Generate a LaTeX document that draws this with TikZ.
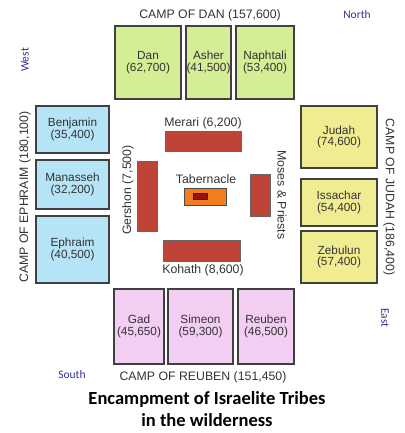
\documentclass[tikz,border=0pt]{standalone}
\usepackage{fontspec}
\setmainfont{Liberation Sans}
\newfontfamily\titlefont{Carlito}
\usetikzlibrary{positioning}

\definecolor{dangreen}{RGB}{212,238,150}
\definecolor{ephblue}{RGB}{180,228,246}
\definecolor{judyellow}{RGB}{240,236,146}
\definecolor{reupink}{RGB}{243,206,243}
\definecolor{levibrown}{RGB}{190,68,56}
\definecolor{taborange}{RGB}{240,125,30}
\definecolor{tabdark}{RGB}{150,20,10}
\definecolor{compass}{RGB}{50,50,150}

\begin{document}
\begin{tikzpicture}[x=1pt, y=-1pt]
    % Styles
    \tikzset{tribe/.style={rectangle, draw=black!75, line width=1.1pt, inner sep=0pt, align=center, font=\fontsize{11.8}{11.8}\selectfont, text=black!80}}
    \tikzset{levite/.style={rectangle, draw=black!60, line width=0.6pt, fill=levibrown}}
    \tikzset{camp/.style={font=\fontsize{12.3}{14}\selectfont, text=black!80}}
    \tikzset{dir/.style={font=\titlefont\fontsize{11.5}{13}\selectfont, text=compass}}
    \useasboundingbox (0,0) rectangle (404,433);

    % North: camp of Dan
    \node [tribe, fill=dangreen, minimum width=66pt, minimum height=73pt] (dan) at (148,62.5) {Dan\\(62,700)};
    \node [tribe, fill=dangreen, minimum width=45pt, minimum height=73pt] (asher) at (208.5,62.5) {Asher\\(41,500)};
    \node [tribe, fill=dangreen, minimum width=58pt, minimum height=73pt] (naphtali) at (265,62.5) {Naphtali\\(53,400)};
    \node [camp] (campdan) at (210,15) {CAMP OF DAN (157,600)};

    % West: camp of Ephraim
    \node [tribe, fill=ephblue, minimum width=73pt, minimum height=47pt] (benjamin) at (72.5,129.5) {Benjamin\\(35,400)};
    \node [tribe, fill=ephblue, minimum width=73pt, minimum height=49pt] (manasseh) at (72.5,184.5) {Manasseh\\(32,200)};
    \node [tribe, fill=ephblue, minimum width=73pt, minimum height=67pt] (ephraim) at (72.5,249.5) {Ephraim\\(40,500)};
    \node [camp, rotate=90] (campephraim) at (25,197) {CAMP OF EPHRAIM (180,100)};

    % East: camp of Judah
    \node [tribe, fill=judyellow, minimum width=76pt, minimum height=62pt] (judah) at (339,137) {Judah\\(74,600)};
    \node [tribe, fill=judyellow, minimum width=76pt, minimum height=47pt] (issachar) at (339,202.5) {Issachar\\(54,400)};
    \node [tribe, fill=judyellow, minimum width=76pt, minimum height=52pt] (zebulun) at (339,257) {Zebulun\\(57,400)};
    \node [camp, rotate=-90] (campjudah) at (389,197) {CAMP OF JUDAH (186,400)};

    % South: camp of Reuben
    \node [tribe, fill=reupink, minimum width=50pt, minimum height=75pt] (gad) at (139,326.5) {Gad\\(45,650)};
    \node [tribe, fill=reupink, minimum width=65pt, minimum height=75pt] (simeon) at (200.5,326.5) {Simeon\\(59,300)};
    \node [tribe, fill=reupink, minimum width=56pt, minimum height=75pt] (reuben) at (266,326.5) {Reuben\\(46,500)};
    \node [camp] (campreuben) at (203,377) {CAMP OF REUBEN (151,450)};

    % Levites and tabernacle
    \node [levite, minimum width=76pt, minimum height=20pt] (merari) at (203,141) {};
    \node [levite, minimum width=20pt, minimum height=70pt] (gershon) at (147,196) {};
    \node [levite, minimum width=20pt, minimum height=42pt] (moses) at (260,195) {};
    \node [levite, minimum width=77pt, minimum height=21pt] (kohath) at (201.5,250.5) {};
    \node [rectangle, draw=black!70, line width=0.6pt, fill=taborange, minimum width=42pt, minimum height=17pt] (tabernacle) at (205,196.5) {};
    \node [rectangle, draw=tabdark!70!black, fill=tabdark, inner sep=0pt, minimum width=14pt, minimum height=6pt] (ark) at (200,196) {};
    \node [camp] (merarilabel) at (203,123) {Merari (6,200)};
    \node [camp, rotate=90] (gershonlabel) at (128,190) {Gershon (7,500)};
    \node [camp, rotate=-90] (moseslabel) at (282,195) {Moses \& Priests};
    \node [camp] (kohathlabel) at (203,270) {Kohath (8,600)};
    \node [camp] (tablabel) at (206,179) {Tabernacle};

    % Compass points
    \node [dir] (north) at (357,15) {North};
    \node [dir, rotate=90] (west) at (25,60) {West};
    \node [dir, rotate=-90] (east) at (385,318) {East};
    \node [dir] (south) at (72,375) {South};

    % Title
    \node [font=\titlefont\bfseries\fontsize{18.5}{22}\selectfont, align=center] (title) at (207,409) {Encampment of Israelite Tribes\\in the wilderness};
\end{tikzpicture}
\end{document}
